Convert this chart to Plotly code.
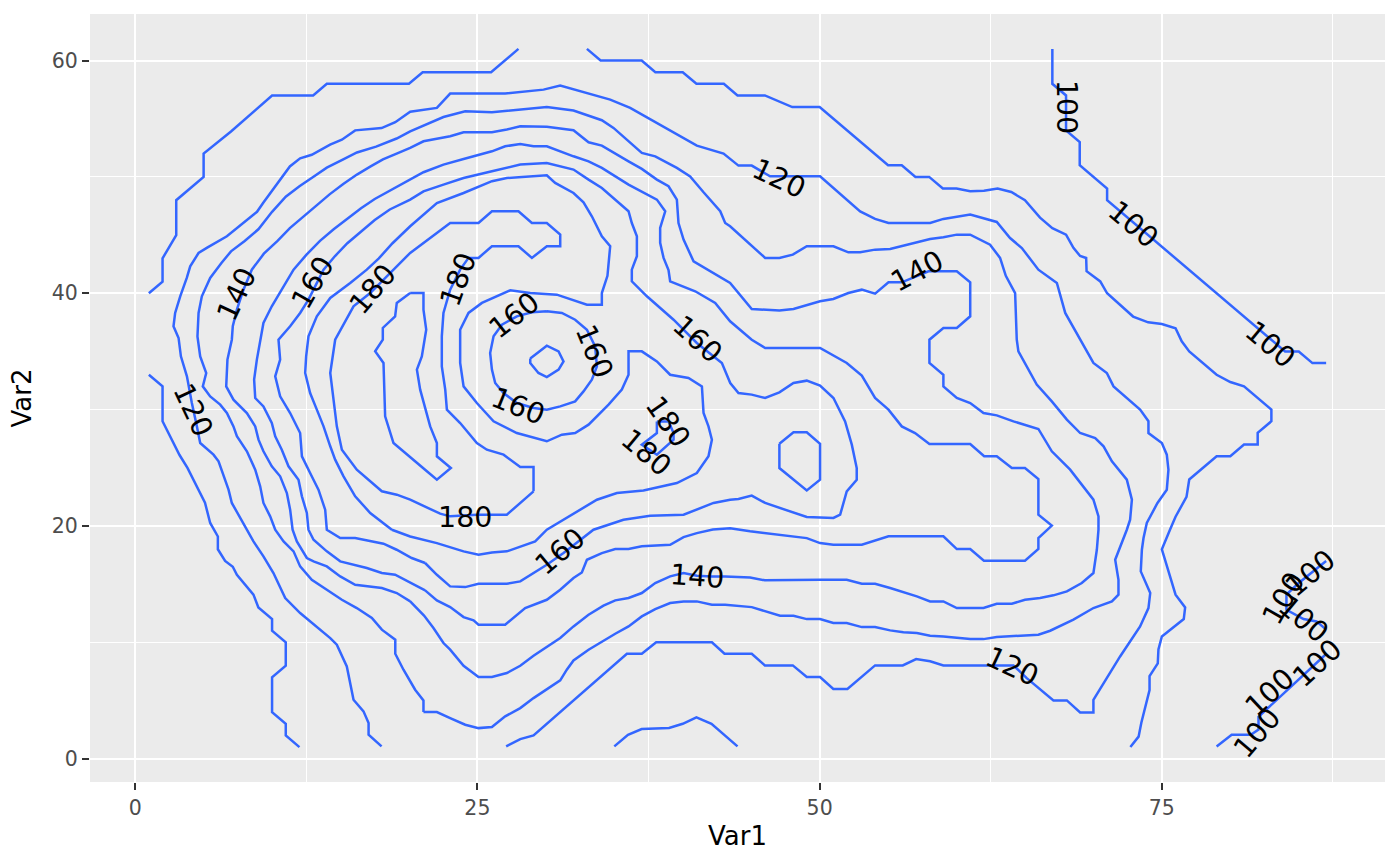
import plotly.graph_objects as go

# ---------------- data: contour paths (Var1, Var2) ----------------
c100_ne = [(67,61),(67,58),(68,57),(68,54),(69,53),(69,51),(71,49),(71,48),(84,35),(85,35),(86,34),(87,34)]
c100_se1 = [(79,1.06),(80.1,2.06),(81.5,2.06),(82.06,2.5),(82.06,3.6),(87,9)]
c100_se2 = [(87,17),(85,15.1),(84.1,14.1),(84.1,12.8),(85.35,12.0),(86.3,11.8),(87,11.1)]

c110_nw = [(1,40),(2,41),(2,43),(3,45),(3,48),(5,50),(5,52),(7,53.9),(10,57),(13,57),(14,58),(20,58),(21,59),(26,59),(28,61)]
c110_sw = [(1,33),(2,32),(2,29),(2.56,27.7),(3.24,26.1),(3.82,25),(4.38,23.7),(5.1,22),(5.48,20.26),(6.04,19.1),
           (6.04,18),(6.57,17),(7.13,16.5),(7.43,15.8),(8.64,14.1),(9,13),(10,12),(10,11),(11,10),(11,8),(10,7),
           (10,4),(11,3),(11,2),(12,1)]
c110_e = [(33,61),(34,60),(37,60),(38,59),(40,59),(41,58),(43,58),(44,57),(46,57),(48,56),(50,56),(55,51),(56,51),
          (57,50),(58,50),(59,49),(60,49),(61,48.76),(62,48.82),(63,49),(64,48.7),(65,48),(66.1,46.5),(67,45.6),
          (68,45.04),(68.54,43.9),(69.03,43.2),(69.47,43.03),(69.5,41.9),(70.5,41.02),(71,40),(72.9,38),(74,37.5),
          (75,37.36),(76,37),(76.45,35.87),(77,35),(79,33),(80,32.37),(81,32),(83,30),(83,29),(82,28),(82,27),
          (81,27),(80,26),(79,26),(77,24),(76.8,22.5),(76,20.8),(75.6,19.7),(75,18),(76,14.1),(76.7,13),(76.6,12),
          (75,10.5),(74.75,9.4),(74.7,8.2),(74.1,7.1),(74.1,5.9),(73.5,3.1),(73.3,1.9),(72.7,1)]
c110_s = [(35,1.06),(36,2.06),(37,2.55),(39,2.64),(40,3),(41,3.55),(42.1,3),(44,1.06)]

c120 = [(18,1.06),(17.05,2.06),(17.05,3.06),(16.68,4.07),(15.95,5.07),(15.46,7.93),(14.73,9.8),(14.25,10.37),
        (12.05,12.52),(10.96,13.81),(10.1,15.96),(9.37,17.39),(8.64,18.68),(8.16,19.68),(7.55,20.83),(7.06,21.98),
        (6.82,23.12),(6.45,24.27),(6.09,25.56),(5.72,26.13),(4.75,27.13),(4.51,28.56),(4.14,30.57),(3.78,32.86),
        (3.34,34.58),(3.17,36.16),(2.8,37.16),(2.92,38.31),(3.29,39.74),(3.77,41.32),(4.02,42.32),(4.63,43.46),
        (5.23,43.9),(6.7,44.9),(7.43,45.6),(8.9,47.0),(9.37,47.8),(11.3,50.9),(12.05,51.6),(12.9,51.9),
        (14.24,52.77),(15.1,53.2),(16.07,54.0),(18.0,54.2),(19.0,54.7),(20.09,55.6),(22.04,55.93),(23.01,57.16),
        (27.03,57.16),(29.83,57.5),(31.05,57.85),(33.6,56.99),(34.7,56.64),(36.16,55.93),(41.03,52.69),
        (42.98,52.0),(44.07,50.97),(45.04,50.97),(46.38,50.05),(50.03,50.05),(52.96,47.04),(54.05,46.39),
        (55.03,46.04),(58.07,46.04),(59.04,46.39),(61.0,46.76),(62.94,46.13),(63.91,44.75),(64.77,43.89),
        (65.98,42.03),(66.84,41.31),(67.33,40.88),(67.94,38.31),(70.0,34.01),(70.98,33.15),(71.47,32.0),
        (73.41,30.0),(74.02,29.0),(74.02,27.99),(75.0,27.13),(75.36,26.13),(75.48,24.84),(75.36,23.12),
        (74.68,21.98),(73.9,20.26),(73.66,18.97),(73.54,17.96),(73.46,16.1),(74.15,14.24),(74.02,12.95),
        (73.41,11.37),(71.95,8.79),(70.0,5.07),(70.0,3.98),(69.03,3.98),(68.06,5.01),(67.08,5.01),(65.13,6.93),
        (64.16,8.02),(59.04,8.02),(58.07,8.37),(57.05,8.57),(56.07,8.02),(54.05,8.02),(52.03,5.99),(51.0,5.99),
        (50.03,7.02),(49.06,7.02),(48.04,8.02),(46.0,8.02),(45.04,9.02),(43.05,9.02),(42.13,10.0),(38.06,10.0),
        (37.01,9.02),(35.92,9.02),(29.1,2.0),(28.13,1.69),(27.1,1.06)]

c130 = [(21.06,4.01),(22.04,4.01),(23.01,3.49),(24.11,2.92),(25.08,2.63),(26.06,2.72),(27.03,3.64),(28.13,4.35),
        (29.1,5.21),(30.07,5.93),(31.05,6.73),(31.53,7.65),(32.02,8.45),(33.12,9.37),(34.09,10.08),(35.07,10.74),
        (36.04,11.37),(37.01,12.23),(37.99,12.86),(39.08,13.38),(40.06,13.52),(41.03,13.52),(42.13,13.23),
        (43.1,13.23),(45.04,13.03),(46.0,12.66),(47.11,12.29),(48.09,12.29),(49.06,12.0),(50.03,12.0),(51.0,11.66),
        (51.98,11.66),(53.08,11.31),(54.05,11.31),(55.15,11.03),(56.12,10.86),(57.1,10.8),(58.07,10.57),
        (59.04,10.51),(61.0,10.28),(61.97,10.28),(62.94,10.46),(63.91,10.51),(64.89,10.57),(65.98,10.66),
        (66.84,11.0),(67.81,11.51),(68.54,11.95),(70.0,12.95),(71.35,13.52),(71.83,14.1),(71.83,15.38),
        (71.59,17.1),(72.08,18.53),(72.44,19.68),(72.68,20.54),(72.81,22.26),(72.44,23.98),(71.35,25.56),
        (70.74,26.85),(70.13,27.56),(69.03,27.99),(68.06,29.14),(66.96,30.71),(65.86,32.15),(64.52,35.01),
        (64.4,36.01),(64.28,40.02),(63.6,41.5),(63.18,43.04),(62.45,44.18),(61.0,45.04),(60.02,45.04),
        (59.04,44.81),(58.07,44.67),(55.15,43.81),(54.05,43.75),(52.96,43.52),(52.1,43.52),(51.01,44.04),
        (49.06,44.04),(48.04,43.32),(47.06,43.04),(46.02,43.04),(43.46,45.76),(43.1,46.04),(42.74,47.05),
        (41.52,48.68),(40.54,50.05),(39.57,50.77),(37.99,51.77),(37.01,52.06),(36.04,53.06),(34.94,54.21),
        (34.09,54.87),(33.12,55.27),(32.02,55.7),(30.07,56.01),(28.13,55.78),(26.06,55.55),(24.11,55.64),
        (22.52,55.15),(20.09,53.92),(19.1,53.3),(17.6,52.6),(16.2,52.1),(15.2,51.5),(14.0,50.8),(13.0,50.0),
        (12.0,49.2),(11.0,48.3),(10.0,47.0),(9.0,45.5),(8.0,44.5),(7.0,43.6),(6.3,42.6),(5.48,41.32),
        (4.87,39.74),(4.63,38.31),(4.55,36.3),(4.75,34.58),(5.19,33.15),(4.94,32.0),(5.48,31.14),(6.21,30.43),
        (6.7,29.71),(7.18,28.56),(7.43,27.71),(8.16,26.42),(8.77,24.84),(9.13,23.41),(9.37,21.98),(9.86,20.83),
        (10.23,19.68),(10.84,18.68),(11.57,17.82),(12.05,16.53),(12.9,15.38),(14.0,14.52),(15.1,13.66),
        (16.19,12.95),(17.29,12.09),(18.02,11.09),(19.0,10.23),(19.0,9.02),(19.6,7.65),(20.45,5.93),(21.06,5.01)]

c140 = [(20.09,13.52),(21.1,12.3),(21.79,11.23),(22.52,9.94),(23.01,9.37),(23.99,7.99),(25.08,7.02),(26.06,7.02),
        (27.15,7.36),(28.13,7.99),(29.1,8.85),(30.07,9.6),(31.05,10.37),(32.02,11.37),(33.12,12.37),(34.21,13.15),
        (35.07,13.61),(36.04,13.81),(37.01,14.24),(37.99,15.1),(39.08,15.67),(40.06,15.96),(41.03,15.73),
        (42.13,15.67),(43.1,15.67),(44.92,15.58),(46.0,15.33),(50.03,15.38),(51.98,15.38),(53.08,15.04),
        (54.05,15.04),(55.15,14.67),(57.1,13.95),(58.07,13.52),(59.04,13.52),(60.02,12.95),(61.97,12.95),
        (62.94,13.32),(64.04,13.32),(65.0,13.66),(66.1,13.81),(67.08,14.04),(68.06,14.38),(69.15,15.1),(70.0,15.96),
        (70.25,17.96),(70.37,19.68),(70.37,20.83),(70.0,22.26),(68.3,24.84),(66.96,26.42),(65.98,28.34),
        (64.16,28.99),(62.94,29.51),(61.97,29.71),(61.0,30.57),(60.02,31.0),(59.04,32.0),(59.04,33.0),(58.02,34.01),
        (58.02,36.01),(59.04,37.02),(60.02,37.02),(61.0,38.02),(61.0,40.94),(60.02,41.89),(57.95,41.89),
        (56.0,40.94),(55.03,40.94),(54.05,39.97),(53.08,40.31),(52.1,40.02),(51.0,39.51),(50.03,39.31),
        (48.09,38.65),(47.06,38.51),(45.04,38.65),(43.46,40.88),(42.25,41.75),(40.79,42.75),(40.06,44.61),
        (39.69,46.04),(39.57,48.05),(38.96,49.2),(38.11,49.77),(37.01,50.69),(36.04,51.34),(34.94,52.06),
        (34.09,52.69),(33.12,52.98),(32.02,54.01),(30.07,54.3),(28.13,54.35),(27.15,54.07),(26.06,53.84),
        (23.99,53.84),(23.01,53.49),(21.06,53.06),(20.09,52.49),(19.1,52.0),(18.1,51.5),(17.2,50.9),(16.2,50.2),
        (15.2,49.4),(14.2,48.5),(13.3,47.6),(12.3,46.6),(11.3,45.6),(10.4,44.5),(9.4,43.4),(8.52,42.03),
        (7.91,40.31),(7.43,38.59),(7.13,37.16),(7.06,36.01),(6.74,34.3),(6.65,32.0),(7.18,30.86),(8.16,29.71),
        (8.77,28.56),(9.01,27.42),(9.37,26.42),(9.98,25.13),(10.59,24.27),(11.08,22.83),(11.32,21.4),(11.5,19.68),
        (11.81,18.68),(12.54,17.25),(13.03,16.96),(14.0,16.53),(14.98,15.67),(16.07,14.95),(18.02,14.67),
        (19.11,14.24)]

c150 = [(21.18,14.47),(22.04,13.61),(23.01,13.03),(23.99,12.17),(24.72,11.89),(25.08,11.52),(27.03,11.52),
        (28.49,12.95),(30.07,13.66),(31.05,14.52),(32.02,15.53),(32.63,16.01),(33.0,17.1),(34.09,17.67),
        (35.07,18.02),(36.04,18.02),(37.01,18.25),(39.08,18.39),(40.06,19.05),(41.03,19.39),(42.2,19.7),
        (43.46,19.8),(44.92,19.54),(47.11,19.25),(49.06,18.96),(50.03,18.53),(51.0,18.39),(53.08,18.39),
        (55.03,19.11),(59.04,19.11),(60.02,18.02),(61.0,18.02),(62.0,17.02),(65.0,17.02),(65.98,18.02),
        (65.98,18.96),(66.96,20.03),(65.98,20.97),(65.98,24.04),(65.0,24.98),(64.04,24.98),(62.94,25.99),
        (62.02,25.99),(61.0,27.05),(58.02,27.05),(56.97,27.99),(56.0,28.56),(55.03,30.0),(54.05,31.0),
        (53.08,32.92),(51.98,34.01),(50.03,35.3),(46.02,35.3),(45.04,36.01),(44.07,37.02),(43.46,37.59),
        (42.37,39.17),(40.91,40.17),(39.08,41.03),(38.96,42.0),(38.6,43.04),(38.35,44.33),(38.35,45.61),
        (38.72,47.05),(38.11,48.05),(37.01,48.76),(36.04,49.34),(34.09,50.77),(33.12,51.34),(32.02,51.77),
        (30.07,52.63),(29.1,52.63),(28.13,52.83),(27.03,52.63),(26.06,52.2),(23.99,51.54),(22.52,51.06),
        (21.06,50.4),(20.09,49.77),(18.5,48.8),(17.5,48.1),(16.5,47.3),(15.5,46.4),(14.5,45.5),(13.5,44.5),
        (12.5,43.3),(11.57,42.03),(10.71,40.31),(9.98,38.88),(9.37,37.45),(9.13,36.01),(8.89,34.3),(8.69,32.58),
        (8.77,31.0),(9.37,30.28),(9.98,28.85),(10.23,27.71),(10.71,26.56),(11.2,25.13),(11.93,23.98),
        (12.18,22.55),(12.54,21.12),(12.66,19.68),(13.03,18.82),(14.0,17.82),(14.98,16.96),(16.92,16.39),
        (18.02,15.96),(18.99,15.81),(20.09,15.1)]

c160 = [(21.18,16.82),(22.04,15.81),(23.01,14.81),(24.11,14.75),(25.08,15.04),(27.15,15.04),(28.13,15.24),
        (29.1,15.96),(30.07,16.67),(31.29,17.67),(32.6,18.9),(33.48,19.68),(35.67,20.54),(37.62,20.89),
        (40.06,20.97),(42.25,21.98),(43.46,22.26),(44.07,22.32),(45.04,22.61),(46.02,21.98),(49.06,20.77),
        (51.01,20.69),(51.5,20.97),(51.98,22.98),(52.71,23.98),(52.71,24.98),(52.35,26.99),(51.86,28.99),
        (51.01,31.0),(50.03,32.06),(49.06,32.49),(48.09,32.29),(47.06,31.49),(46.02,31.0),(45.04,31.29),
        (44.07,31.43),(43.47,32.29),(42.86,34.01),(41.03,35.73),(39.33,37.73),(37.38,39.74),(36.28,41.03),
        (36.28,42.03),(36.65,43.18),(36.65,44.9),(36.28,46.04),(36.04,47.05),(34.09,49.05),(33.12,49.77),
        (32.02,50.63),(30.07,51.2),(28.13,51.06),(26.06,50.48),(23.99,49.91),(22.52,49.34),(21.06,48.76),
        (20.09,48.05),(18.6,47.2),(17.5,46.3),(16.5,45.3),(15.5,44.3),(14.6,43.2),(13.76,42.03),(12.66,39.45),
        (12.05,38.31),(11.32,37.16),(10.47,36.01),(10.59,34.3),(10.23,32.86),(10.59,31.14),(11.32,29.71),
        (12.05,27.99),(12.18,25.99),(12.78,24.55),(13.39,23.12),(13.88,21.4),(14.0,19.68),(14.98,18.96),
        (16.07,18.96),(18.14,18.48),(19.1,17.96),(20.2,17.25)]

c160_crater = [(30.07,38.45),(31.17,38.31),(32.14,37.73),(33.0,36.87),(33.6,35.44),(33.73,33.72),(33.36,32.58),
               (32.75,31.57),(32.14,30.71),(31.05,30.28),(30.07,30.0),(29.1,30.14),(27.88,30.57),(26.91,31.43),
               (26.3,32.29),(26.06,33.44),(25.93,34.87),(26.18,36.3),(26.79,37.3),(27.88,38.02),(28.98,38.36)]
c150_crater = [(28.86,34.4),(30.07,35.5),(30.93,35.0),(31.29,34.15),(30.93,33.44),(30.07,32.8),(29.46,33.15),(28.86,34.0)]

c170 = [(18.75,19.68),(20.09,19.1),(22.04,18.53),(23.99,17.82),(25.08,17.53),(26.06,17.73),(27.15,17.82),
        (28.25,18.25),(29.22,18.68),(30.07,19.68),(31.29,20.54),(32.75,21.55),(33.73,22.26),(35.19,22.83),
        (37.13,23.06),(39.57,23.69),(41.03,24.55),(41.88,25.99),(42.13,27.42),(41.88,28.56),(41.52,29.71),
        (41.4,32.0),(40.42,32.72),(39.08,33.0),(38.11,34.15),(37.01,35.01),(36.04,35.01),(36.04,33.0),
        (35.55,31.72),(34.58,30.43),(33.12,28.71),(32.14,27.99),(31.17,27.85),(30.07,27.28),(27.88,27.99),
        (26.18,29.0),(24.96,30.57),(23.99,32.0),(23.74,34.01),(23.74,36.87),(24.35,38.31),(25.33,39.17),
        (26.42,39.74),(27.4,40.25),(28.86,40.02),(30.8,39.88),(33.0,39.02),(34.09,39.02),(34.09,40.02),
        (34.5,41.5),(34.7,44.04),(34.09,44.9),(33.36,46.62),(32.75,47.82),(32.02,48.62),(30.68,49.48),
        (30.07,50.14),(27.15,49.91),(26.06,49.63),(23.99,48.62),(22.04,47.76),(20.09,45.76),(18.8,44.3),
        (17.8,43.0),(16.92,42.03),(15.71,40.88),(14.25,39.6),(13.27,38.02),(12.66,36.3),(12.49,34.58),
        (12.42,33.15),(12.78,31.43),(13.27,30.0),(13.76,28.56),(14.25,26.85),(14.61,25.7),(15.22,24.27),
        (16.07,22.55),(17.17,21.12),(18.14,20.26)]
c170_east = [(47.06,27.07),(48.09,28.05),(49.06,28.05),(50.03,27.07),(50.03,23.98),(49.06,23.06),(47.06,24.98)]

c180 = [(29.1,22.98),(28.13,21.98),(27.15,20.97),(24.96,20.97),(23.01,20.83),(22.28,21.06),(20.09,22.26),
        (19.11,22.69),(18.02,22.98),(16.19,24.84),(15.1,26.56),(14.73,28.56),(14.25,33.15),(14.61,36.01),
        (15.95,38.88),(17.17,40.02),(18.87,42.03),(20.09,43.47),(23.01,46.04),(25.08,46.04),(26.06,47.05),
        (28.0,47.05),(28.98,46.04),(30.07,46.04),(31.05,45.04),(31.05,44.04),(30.07,44.04),(28.98,43.04),
        (28.0,44.04),(26.06,44.04),(25.08,43.04),(24.35,43.04),(23.74,42.03),(23.01,40.31),(22.52,38.31),
        (22.4,36.3),(22.4,33.72),(22.65,31.72),(22.77,30.0),(23.74,28.85),(24.96,27.13),(25.69,26.56),
        (26.91,26.13),(28.13,25.07),(29.1,25.07)]
c180_east = [(38.11,28.99),(38.96,28.99),(39.33,27.99),(39.33,27.42),(38.11,26.13),(37.01,26.99),(38.11,27.99)]

c190 = [(20.09,40.02),(21.06,40.02),(21.06,38.59),(21.26,36.87),(20.94,34.58),(20.58,33.44),(20.82,31.72),
        (21.19,30.0),(21.55,28.56),(22.04,27.13),(22.04,25.99),(23.06,24.98),(22.04,23.98),(21.18,24.84),
        (18.87,27.13),(18.26,29.42),(18.14,32.86),(18.14,34.01),(17.53,35.01),(18.09,36.01),(18.09,37.02),
        (18.99,38.02),(19.11,39.17)]

open_paths = [c100_ne, c100_se1, c100_se2, c110_nw, c110_sw, c110_e, c110_s, c120]
closed_paths = [c130, c140, c150, c160, c160_crater, c150_crater, c170, c170_east, c180, c180_east, c190]

# contour labels: text, Var1, Var2, angle (degrees, clockwise)
label_text = ["100", "100", "100", "120", "140", "160", "160", "160", "160", "180", "180", "180", "160", "140",
              "120", "140", "160", "180", "180", "120", "100", "100", "100", "100", "100", "100"]
label_x = [68.05, 72.9, 82.9, 47.0, 57.1, 41.07, 27.68, 33.53, 28.0, 38.9, 37.3, 24.1, 31.05, 41.03,
           64.04, 7.43, 13.0, 17.36, 23.6, 4.19, 85.83, 83.88, 85.34, 86.32, 82.9, 81.93]
label_y = [56.06, 45.9, 35.6, 49.9, 41.9, 36.0, 38.1, 35.0, 30.3, 29.0, 26.3, 20.7, 17.82, 15.67,
           7.93, 39.88, 40.9, 40.3, 41.2, 30.0, 15.96, 13.81, 11.95, 8.22, 5.65, 2.2]
label_angle = [90, 40, 40, 25, -28, 42, -38, 68, 22, 55, 40, 0, -40, 4,
               25, -65, -60, -50, -70, 65, -40, -60, 40, -43, -43, -50]

x_ticks = [0, 25, 50, 75]
y_ticks = [0, 20, 40, 60]

# ---------------- figure ----------------
LINE = "#3366FF"
fig = go.Figure()
for path in open_paths + [p + [p[0]] for p in closed_paths]:
    fig.add_trace(go.Scatter(
        x=[p[0] for p in path], y=[p[1] for p in path], mode="lines",
        line=dict(color=LINE, width=2.5), hoverinfo="skip", showlegend=False))

for t, x, y, a in zip(label_text, label_x, label_y, label_angle):
    fig.add_annotation(x=x, y=y, text=t, showarrow=False, textangle=a,
                       font=dict(family="DejaVu Sans", size=28.5, color="black"))

axis_common = dict(
    showgrid=True, gridcolor="white", gridwidth=2.2, zeroline=False, showline=False,
    ticks="outside", ticklen=7, tickwidth=2, tickcolor="#333333",
    tickfont=dict(family="DejaVu Sans", size=20.5, color="#4D4D4D"),
)
fig.update_xaxes(range=[-3.3, 91.3], tickvals=x_ticks, ticktext=[str(v) for v in x_ticks],
                 minor=dict(dtick=12.5, tick0=0, showgrid=True, gridcolor="white", gridwidth=1),
                 title=dict(text="Var1", font=dict(family="DejaVu Sans", size=26, color="black"), standoff=8),
                 **axis_common)
fig.update_yaxes(range=[-2, 64], tickvals=y_ticks, ticktext=[str(v) for v in y_ticks],
                 minor=dict(dtick=10, tick0=0, showgrid=True, gridcolor="white", gridwidth=1),
                 title=dict(text="Var2", font=dict(family="DejaVu Sans", size=26, color="black"), standoff=12),
                 **axis_common)
fig.update_layout(width=1400, height=866, margin=dict(l=90, r=15, t=14, b=84),
                  paper_bgcolor="white", plot_bgcolor="#EBEBEB",
                  font=dict(family="DejaVu Sans"))
fig.write_html("out.html")
